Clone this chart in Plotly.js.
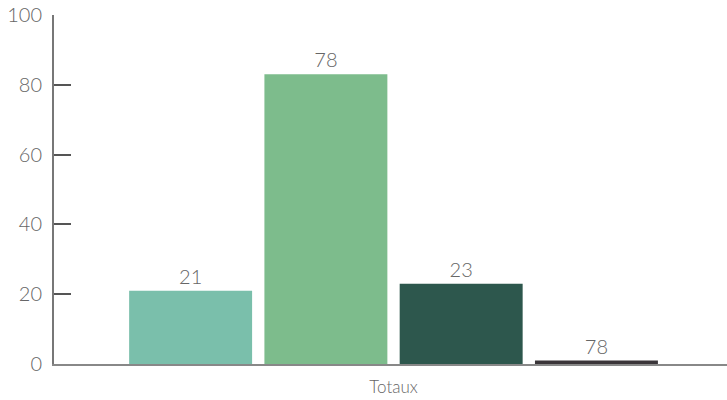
<!DOCTYPE html>
<html>
<head>
<meta charset="utf-8">
<script src="https://cdn.plot.ly/plotly-3.0.1.min.js"></script>
<style>html,body{margin:0;padding:0;background:#fff;}#chart{width:727px;height:400px;}</style>
</head>
<body>
<div id="chart"></div>
<script>
const categories = ["Totaux"];
const seriesValues = [[21], [83], [23], [1]];
const seriesLabels = [["21"], ["78"], ["23"], ["78"]];
const seriesColors = ["#7abfab", "#7dbc8c", "#2d574d", "#3a3539"];
const yTicks = [0, 20, 40, 60, 80, 100];

const traces = seriesValues.map((vals, i) => ({
  type: "bar",
  x: categories,
  y: vals,
  text: seriesLabels[i],
  textposition: "outside",
  cliponaxis: false,
  textfont: {size: 20, color: "#666", weight: 300},
  marker: {color: seriesColors[i]},
  hoverinfo: "none"
}));

const layout = {
  width: 727, height: 400,
  margin: {l: 54, r: 0, t: 15, b: 36},
  paper_bgcolor: "#fff", plot_bgcolor: "#fff",
  font: {family: "Lato, 'Open Sans', sans-serif", color: "#666", size: 19, weight: 300},
  showlegend: false,
  barmode: "group",
  bargap: 0.196,
  bargroupgap: 0.091,
  xaxis: {
    range: [-0.5045, 0.4955],
    showline: true, linecolor: "#888", linewidth: 2,
    ticks: "", showgrid: false, zeroline: false,
    ticklabelstandoff: 7,
    tickfont: {size: 17, color: "#666", weight: 300}
  },
  yaxis: {
    range: [0, 100],
    tickvals: yTicks,
    showline: true, linecolor: "#777", linewidth: 2,
    ticks: "inside", ticklen: 17, tickwidth: 2, tickcolor: "#555",
    ticklabelstandoff: 6,
    showgrid: false, zeroline: false,
    tickfont: {size: 20, color: "#666", weight: 300}
  }
};

Plotly.newPlot("chart", traces, layout, {staticPlot: true, displayModeBar: false});
</script>
</body>
</html>
